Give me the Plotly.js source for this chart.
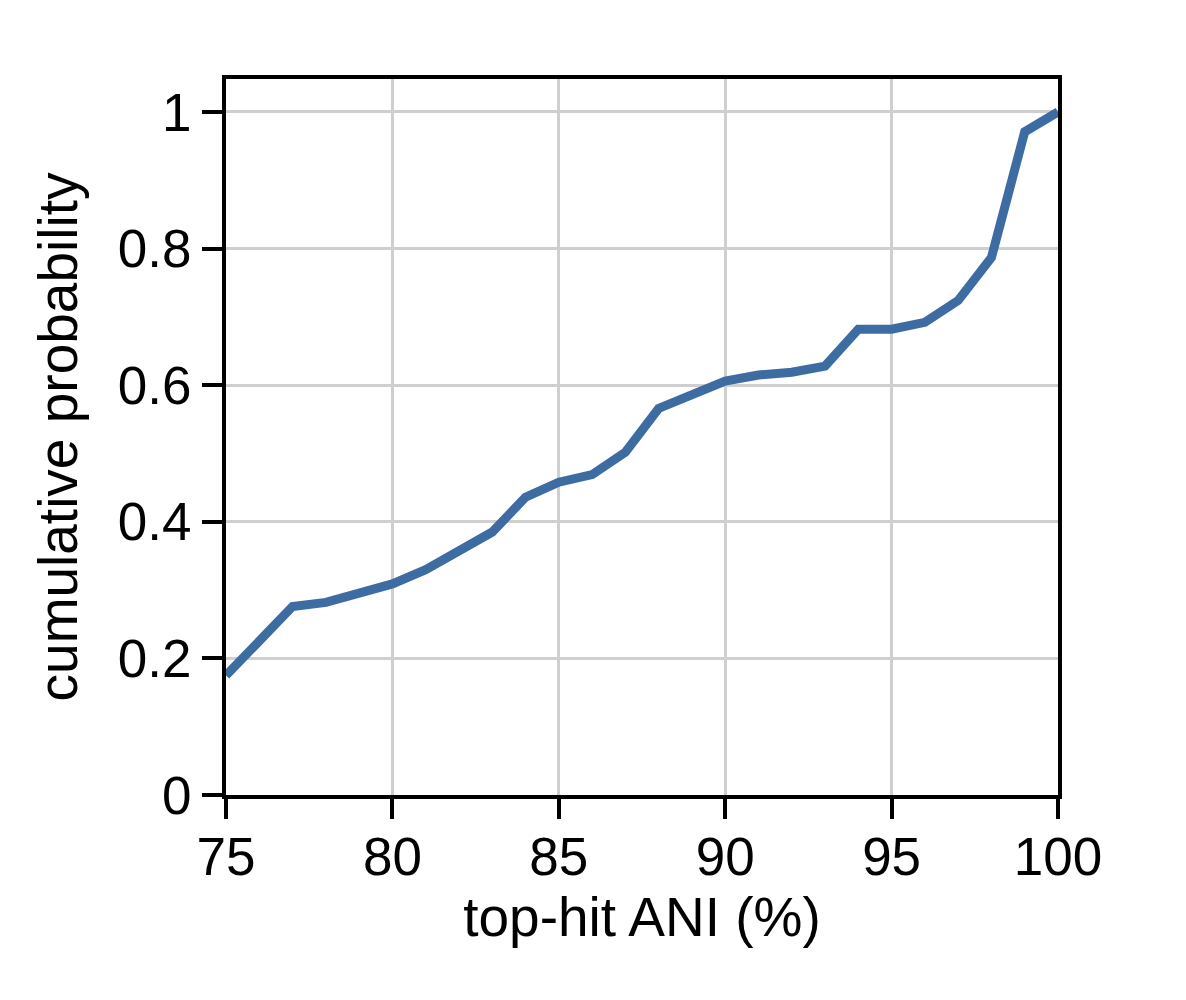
<!DOCTYPE html>
<html>
<head>
<meta charset="utf-8">
<script src="https://cdn.plot.ly/plotly-3.0.1.min.js"></script>
<style>html,body{margin:0;padding:0;background:#fff;}</style>
</head>
<body>
<div id="chart" style="width:1186px;height:1000px;"></div>
<script>
const aniValues = [75, 77, 78, 80, 81, 83, 84, 85, 86, 87, 88, 90, 91, 92, 93, 94, 95, 96, 97, 98, 99, 100];
const cumulativeProb = [0.175, 0.276, 0.282, 0.309, 0.330, 0.385, 0.436, 0.458, 0.469, 0.502, 0.566, 0.606, 0.615, 0.619, 0.628, 0.682, 0.682, 0.692, 0.724, 0.787, 0.971, 1.0];
const xTicks = [75, 80, 85, 90, 95, 100];
const yTicks = [0, 0.2, 0.4, 0.6, 0.8, 1];
const yTickLabels = ["0", "0.2", "0.4", "0.6", "0.8", "1"];

const font = "Liberation Sans, Arial, Helvetica, sans-serif";

const trace = {
  x: aniValues,
  y: cumulativeProb,
  type: 'scatter',
  mode: 'lines',
  line: {color: '#3d6ca3', width: 9},
  hoverinfo: 'skip'
};

const axisCommon = {
  ticks: 'outside',
  ticklen: 20,
  tickwidth: 4,
  tickcolor: '#000',
  showline: true,
  linewidth: 4,
  linecolor: '#000',
  mirror: true,
  showgrid: true,
  gridcolor: '#cfcfcf',
  gridwidth: 3,
  zeroline: false,
  tickfont: {family: font, size: 53, color: '#000'},
  automargin: false
};

const layout = {
  width: 1186,
  height: 1000,
  margin: {l: 226, r: 128, t: 79, b: 205},
  paper_bgcolor: '#ffffff',
  plot_bgcolor: '#ffffff',
  showlegend: false,
  font: {family: font, color: '#000', size: 53},
  xaxis: Object.assign({}, axisCommon, {
    range: [75, 100],
    tickvals: xTicks,
    ticklabelstandoff: -8,
    title: {text: 'top-hit ANI (%)', font: {family: font, size: 55, color: '#000'}, standoff: 8}
  }),
  yaxis: Object.assign({}, axisCommon, {
    range: [0, 1.0483],
    tickvals: yTicks,
    ticktext: yTickLabels,
    title: {text: 'cumulative probability', font: {family: font, size: 55, color: '#000'}, standoff: 23}
  })
};

Plotly.newPlot('chart', [trace], layout, {displayModeBar: false, staticPlot: true});
</script>
</body>
</html>
